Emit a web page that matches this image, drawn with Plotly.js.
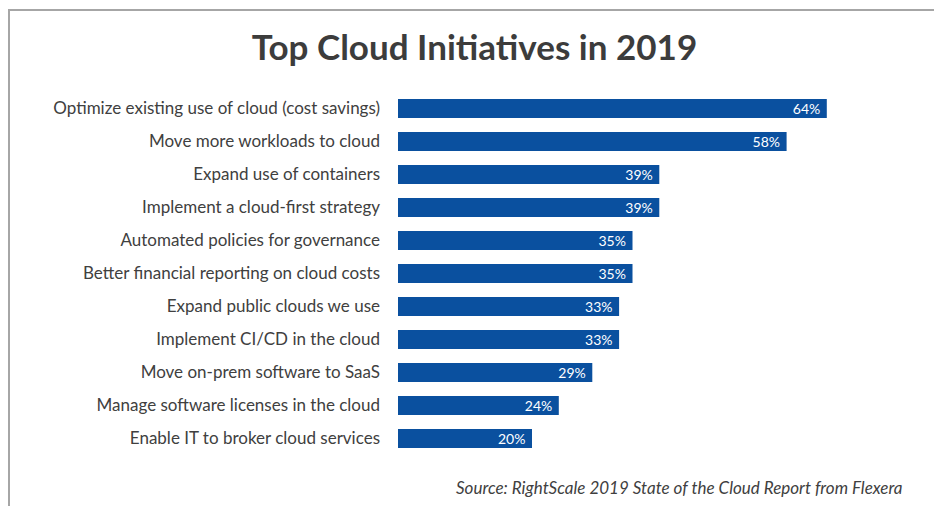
<!DOCTYPE html>
<html>
<head>
<meta charset="utf-8">
<script src="https://cdn.plot.ly/plotly-3.0.1.min.js"></script>
<style>
  html, body { margin: 0; padding: 0; background: #fff; }
  #wrap { position: relative; width: 934px; height: 506px; }
  #chart { width: 934px; height: 506px; }
  #frame { position: absolute; left: 8px; top: 9px; right: 0; bottom: 0;
           border-left: 2px solid #a6a6a6; border-top: 2px solid #a6a6a6; pointer-events: none; }
</style>
</head>
<body>
<div id="wrap">
  <div id="chart"></div>
  <div id="frame"></div>
</div>
<script>
const categories = [
  "Optimize existing use of cloud (cost savings)",
  "Move more workloads to cloud",
  "Expand use of containers",
  "Implement a cloud-first strategy",
  "Automated policies for governance",
  "Better financial reporting on cloud costs",
  "Expand public clouds we use",
  "Implement CI/CD in the cloud",
  "Move on-prem software to SaaS",
  "Manage software licenses in the cloud",
  "Enable IT to broker cloud services"
];
const values = [64, 58, 39, 39, 35, 35, 33, 33, 29, 24, 20];
const valueLabels = values.map(v => v + "%\u00a0");
const titleText = "Top Cloud Initiatives in 2019";
const sourceText = "Source: RightScale 2019 State of the Cloud Report from Flexera";

const trace = {
  type: "bar",
  orientation: "h",
  y: categories,
  x: values,
  text: valueLabels,
  textposition: "inside",
  insidetextanchor: "end",
  constraintext: "none",
  textangle: 0,
  textfont: { color: "#ffffff", size: 14, family: "Lato, 'Open Sans', sans-serif" },
  marker: { color: "#0a509f" },
  hoverinfo: "skip",
  cliponaxis: false
};

const layout = {
  width: 934,
  height: 506,
  margin: { l: 398, r: 67, t: 92, b: 51 },
  paper_bgcolor: "#ffffff",
  plot_bgcolor: "#ffffff",
  showlegend: false,
  bargap: 0.43,
  title: {
    text: "<b>" + titleText + "</b>",
    x: 0.508, xanchor: "center",
    y: 0.905, yanchor: "middle",
    yref: "container",
    font: { family: "Lato, 'Open Sans', sans-serif", size: 35, color: "#3c3c3c" }
  },
  xaxis: {
    range: [0, 70],
    visible: false,
    showgrid: false,
    zeroline: false,
    fixedrange: true
  },
  yaxis: {
    autorange: "reversed",
    showgrid: false,
    zeroline: false,
    showline: false,
    ticks: "",
    ticklabelstandoff: 17,
    tickfont: { family: "Lato, 'Open Sans', sans-serif", size: 17, color: "#404040" },
    fixedrange: true
  },
  annotations: [{
    text: "<i>" + sourceText + "</i>",
    xref: "paper", yref: "paper",
    x: 1.081, y: -0.09,
    xanchor: "right", yanchor: "middle",
    showarrow: false,
    font: { family: "Lato, 'Open Sans', sans-serif", size: 17, color: "#404040" }
  }]
};

Plotly.newPlot("chart", [trace], layout, { displayModeBar: false, staticPlot: true });
</script>
</body>
</html>
